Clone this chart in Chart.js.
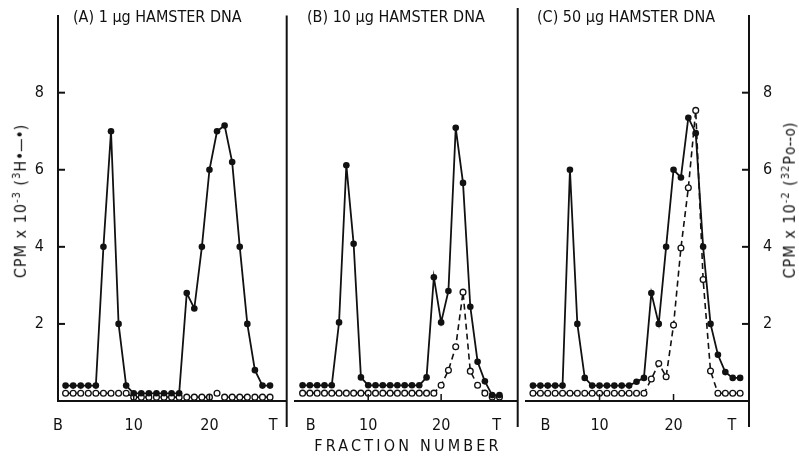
<!DOCTYPE html>
<html>
<head>
<meta charset="utf-8">
<title>Hamster DNA gradients</title>
<script src="https://cdn.jsdelivr.net/npm/chart.js@4.4.1/dist/chart.umd.min.js"></script>
<style>
  html, body { margin: 0; padding: 0; background: #fff; }
  #wrap { position: relative; width: 799px; height: 458px; overflow: hidden; color: #111;
          font-family: 'Liberation Sans Narrow', 'DejaVu Sans Condensed', 'Roboto', sans-serif; }
  #wrap canvas { position: absolute; top: 0; }
  .panel-title { position: absolute; top: 7px; font-size: 16px; white-space: nowrap; }
  .axis-title { position: absolute; font-size: 16px; letter-spacing: 1px; white-space: nowrap;
                transform: translate(-50%, -50%) rotate(-90deg); }
  .axis-title sup { font-size: 11px; }
  .axis-title .key { font-size: 15px; letter-spacing: 0; }
  #xTitle { position: absolute; left: 408px; top: 436px; transform: translateX(-50%);
            font-size: 16px; letter-spacing: 3.2px; white-space: nowrap; }
</style>
</head>
<body>
<div id="wrap">
  <canvas id="panelA" width="292" height="458" style="left:0"></canvas>
  <canvas id="panelB" width="233" height="458" style="left:290px"></canvas>
  <canvas id="panelC" width="278" height="458" style="left:521px"></canvas>

  <div class="panel-title" style="left:73px">(A) 1 μg HAMSTER DNA</div>
  <div class="panel-title" style="left:307px">(B) 10 μg HAMSTER DNA</div>
  <div class="panel-title" style="left:537px">(C) 50 μg HAMSTER DNA</div>

  <div class="axis-title" style="left:20px; top:201px">CPM x 10<sup>-3</sup> (<sup>3</sup>H<span class="key">•—•</span>)</div>
  <div class="axis-title" style="left:789px; top:200px">CPM x 10<sup>-2</sup> (<sup>32</sup>P<span class="key">o--o</span>)</div>
  <div id="xTitle">FRACTION NUMBER</div>
</div>

<script>
// fraction numbers collected from each gradient
const fractionsA = [1, 2, 3, 4, 5, 6, 7, 8, 9, 10, 11, 12, 13, 14, 15, 16, 17, 18, 19, 20, 21, 22, 23, 24, 25, 26, 27, 28];
const fractionsB = [1, 2, 3, 4, 5, 6, 7, 8, 9, 10, 11, 12, 13, 14, 15, 16, 17, 18, 19, 20, 21, 22, 23, 24, 25, 26, 27, 28];
const fractionsC = [1, 2, 3, 4, 5, 6, 7, 8, 9, 10, 11, 12, 13, 14, 15, 16, 17, 18, 19, 20, 21, 22, 23, 24, 25, 26, 27, 28, 29];

// 3H counts, CPM x 10^-3
const h3A = [0.4, 0.4, 0.4, 0.4, 0.4, 4.0, 7.0, 2.0, 0.4, 0.2, 0.2, 0.2, 0.2, 0.2, 0.2, 0.2, 2.8, 2.4, 4.0, 6.0, 7.0, 7.15, 6.2, 4.0, 2.0, 0.8, 0.4, 0.4];
const h3B = [0.4, 0.4, 0.4, 0.4, 0.4, 2.0, 6.0, 4.0, 0.6, 0.4, 0.4, 0.4, 0.4, 0.4, 0.4, 0.4, 0.4, 0.6, 3.15, 2.0, 2.8, 6.95, 5.55, 2.4, 1.0, 0.5, 0.15, 0.15];
const h3C = [0.4, 0.4, 0.4, 0.4, 0.4, 6.0, 2.0, 0.6, 0.4, 0.4, 0.4, 0.4, 0.4, 0.4, 0.5, 0.6, 2.8, 2.0, 4.0, 6.0, 5.8, 7.35, 6.95, 4.0, 2.0, 1.2, 0.75, 0.6, 0.6];

// 32P counts, CPM x 10^-2
const p32A = [0.2, 0.2, 0.2, 0.2, 0.2, 0.2, 0.2, 0.2, 0.2, 0.1, 0.1, 0.1, 0.1, 0.1, 0.1, 0.1, 0.1, 0.1, 0.1, 0.1, 0.2, 0.1, 0.1, 0.1, 0.1, 0.1, 0.1, 0.1];
const p32B = [0.2, 0.2, 0.2, 0.2, 0.2, 0.2, 0.2, 0.2, 0.2, 0.2, 0.2, 0.2, 0.2, 0.2, 0.2, 0.2, 0.2, 0.2, 0.2, 0.4, 0.78, 1.38, 2.77, 0.76, 0.4, 0.2, 0.1, 0.1];
const p32C = [0.2, 0.2, 0.2, 0.2, 0.2, 0.2, 0.2, 0.2, 0.2, 0.2, 0.2, 0.2, 0.2, 0.2, 0.2, 0.2, 0.57, 0.97, 0.63, 1.97, 3.97, 5.53, 7.54, 3.15, 0.78, 0.2, 0.2, 0.2, 0.2];

// axis ticks
const yTicks = [2, 4, 6, 8];
const xLabels = ['B', '10', '20', 'T'];
const xTicksA = [0, 10, 20, 28.4];
const xTicksB = [2.1, 10, 20, 27.6];
const xTicksC = [2.7, 10, 20, 27.9];
const xMarks = [10, 20];

const ink = '#111';
const fontFamily = "'Liberation Sans Narrow', 'DejaVu Sans Condensed', 'Roboto', sans-serif";

// inward tick marks and panel separators running below the axis
const framePlugin = {
    id: 'frame',
    afterDraw(chart, args, opts) {
        const { ctx, chartArea: a, scales } = chart;
        const line = (x1, y1, x2, y2) => {
            ctx.beginPath();
            ctx.moveTo(x1, y1);
            ctx.lineTo(x2, y2);
            ctx.stroke();
        };
        ctx.save();
        ctx.strokeStyle = ink;
        ctx.lineWidth = 2;
        if (opts.yTicks) {
            const x0 = opts.yTicks === 'left' ? a.left : a.right;
            const dir = opts.yTicks === 'left' ? 1 : -1;
            yTicks.forEach(v => {
                const y = scales.y.getPixelForValue(v);
                line(x0, y, x0 + dir * 7, y);
            });
        }
        ctx.lineWidth = 1.5;
        xMarks.forEach(v => {
            const x = scales.x.getPixelForValue(v);
            line(x, a.bottom, x, a.bottom - 7);
        });
        ctx.lineWidth = 2;
        line(a.right, a.top, a.right, a.bottom + 26);
        ctx.restore();
    }
};

function toPoints(xs, ys) {
    return xs.map((x, i) => ({ x: x, y: ys[i] }));
}

function makePanel(id, fractions, h3, p32, xTicks, xRange, yAxis, padding) {
    const yScale = {
        min: 0,
        max: 10,
        display: yAxis !== null,
        position: yAxis || 'left',
        border: { display: true, color: ink, width: 2 },
        grid: { display: false },
        ticks: { color: ink, padding: 6, font: { family: fontFamily, size: 16 } },
        afterBuildTicks: s => { s.ticks = yTicks.map(v => ({ value: v })); },
        afterFit: s => { s.width = yAxis === null ? 0 : (yAxis === 'left' ? 58 : 50); }
    };

    return new Chart(document.getElementById(id), {
        type: 'line',
        data: {
            datasets: [
                {
                    label: '3H',
                    data: toPoints(fractions, h3),
                    borderColor: ink,
                    backgroundColor: ink,
                    borderWidth: 1.8,
                    pointRadius: 3.3,
                    pointBackgroundColor: ink,
                    pointBorderWidth: 0,
                    tension: 0
                },
                {
                    label: '32P',
                    data: toPoints(fractions, p32),
                    borderColor: ink,
                    borderWidth: 1.6,
                    borderDash: [6, 4],
                    pointRadius: 2.9,
                    pointBackgroundColor: '#fff',
                    pointBorderColor: ink,
                    pointBorderWidth: 1.3,
                    tension: 0
                }
            ]
        },
        options: {
            responsive: false,
            animation: false,
            devicePixelRatio: 1,
            layout: { padding: padding },
            plugins: {
                legend: { display: false },
                tooltip: { enabled: false },
                frame: { yTicks: yAxis }
            },
            scales: {
                x: {
                    type: 'linear',
                    min: xRange[0],
                    max: xRange[1],
                    border: { display: true, color: ink, width: 2 },
                    grid: { display: false },
                    ticks: {
                        color: ink,
                        padding: 7,
                        autoSkip: false,
                        maxRotation: 0,
                        font: { family: fontFamily, size: 16 },
                        callback: (value, index) => xLabels[index]
                    },
                    afterBuildTicks: s => { s.ticks = xTicks.map(v => ({ value: v })); },
                    afterFit: s => { s.height = 57; }
                },
                y: yScale
            }
        },
        plugins: [framePlugin]
    });
}

makePanel('panelA', fractionsA, h3A, p32A, xTicksA, [0, 30.2], 'left', { top: 8, right: 2, left: 0, bottom: 0 });
makePanel('panelB', fractionsB, h3B, p32B, xTicksB, [0, 30.5], null, { top: 8, right: 2, left: 0, bottom: 0 });
makePanel('panelC', fractionsC, h3C, p32C, xTicksC, [0.1, 30.2], 'right', { top: 8, right: 0, left: 0, bottom: 0 });
</script>
</body>
</html>
